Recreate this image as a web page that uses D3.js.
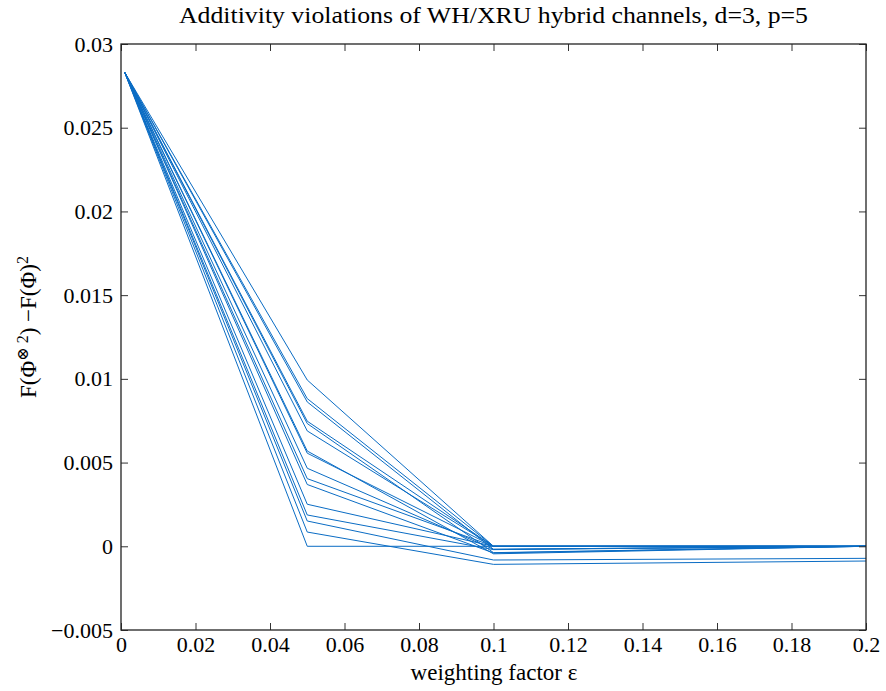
<!DOCTYPE html>
<html lang="en">
<head>
<meta charset="utf-8">
<title>additivity</title>
<style>
  body { margin: 0; background: #fff; }
  svg text { font-family: "Liberation Serif", "DejaVu Serif", serif; fill: #000; }
</style>
</head>
<body>
<script src="https://cdn.jsdelivr.net/npm/d3@7"></script>
<script>
// weighting factor sample points
const eps = [0.001, 0.05, 0.1, 0.2];

// one row per channel: value at each eps
const runs = [
  [0.02830, 0.00993, 0.00000, 0.00000],
  [0.02830, 0.00882, 0.00000, 0.00000],
  [0.02830, 0.00862, -0.00018, 0.00000],
  [0.02830, 0.00747, 0.00000, 0.00000],
  [0.02830, 0.00733, -0.00038, 0.00000],
  [0.02830, 0.00689, 0.00000, 0.00000],
  [0.02830, 0.00569, -0.00045, 0.00000],
  [0.02830, 0.00556, 0.00000, 0.00000],
  [0.02830, 0.00466, -0.00018, 0.00000],
  [0.02830, 0.00404, 0.00000, 0.00000],
  [0.02830, 0.00369, -0.00040, 0.00000],
  [0.02830, 0.00251, 0.00000, 0.00000],
  [0.02830, 0.00187, -0.00020, 0.00000],
  [0.02830, 0.00151, -0.00082, -0.00072],
  [0.02830, 0.00085, -0.00108, -0.00088],
  [0.02830, 0.00000, 0.00000, 0.00000]
];

const xTicks = [0, 0.02, 0.04, 0.06, 0.08, 0.1, 0.12, 0.14, 0.16, 0.18, 0.2];
const yTicks = [-0.005, 0, 0.005, 0.01, 0.015, 0.02, 0.025, 0.03];

const W = 886, H = 691;
const m = { left: 121, right: 20, top: 44, bottom: 61 };
const serif = "'Liberation Serif', 'DejaVu Serif', serif";

const svg = d3.select("body").append("svg")
  .attr("width", W).attr("height", H);

const x = d3.scaleLinear().domain([0, 0.2]).range([m.left, W - m.right]);
const y = d3.scaleLinear().domain([-0.005, 0.03]).range([H - m.bottom, m.top]);

const fmt = (d) => d === 0 ? "0" : String(d).replace("-", "\u2212");

const line = d3.line()
  .x((d, i) => x(eps[i]))
  .y((d) => y(d));

svg.append("g")
  .selectAll("path")
  .data(runs)
  .join("path")
  .attr("d", line)
  .attr("fill", "none")
  .attr("stroke", "#0a6cc4")
  .attr("stroke-width", 1);

// axes, MATLAB box style with inward ticks
const tk = 7;
svg.append("g")
  .attr("transform", `translate(0,${H - m.bottom})`)
  .call(d3.axisBottom(x).tickValues(xTicks).tickSize(-tk).tickPadding(6).tickFormat(fmt))
  .call(g => g.select(".domain").remove());
svg.append("g")
  .attr("transform", `translate(0,${m.top})`)
  .call(d3.axisTop(x).tickValues(xTicks).tickSize(-tk).tickFormat(""))
  .call(g => g.select(".domain").remove());
svg.append("g")
  .attr("transform", `translate(${m.left},0)`)
  .call(d3.axisLeft(y).tickValues(yTicks).tickSize(-tk).tickPadding(8).tickFormat(fmt))
  .call(g => g.select(".domain").remove());
svg.append("g")
  .attr("transform", `translate(${W - m.right},0)`)
  .call(d3.axisRight(y).tickValues(yTicks).tickSize(-tk).tickFormat(""))
  .call(g => g.select(".domain").remove());

svg.selectAll(".tick line").attr("stroke", "#333");
svg.selectAll("g").attr("font-family", serif);
svg.selectAll(".tick text")
  .style("font-family", serif)
  .style("font-size", "22px");

svg.append("rect")
  .attr("x", m.left).attr("y", m.top)
  .attr("width", W - m.left - m.right)
  .attr("height", H - m.top - m.bottom)
  .attr("fill", "none")
  .attr("stroke", "#222")
  .attr("stroke-width", 1.3);

svg.append("text")
  .attr("x", 179)
  .attr("y", 23)
  .attr("font-size", 23)
  .attr("textLength", 629)
  .attr("lengthAdjust", "spacingAndGlyphs")
  .text("Additivity violations of WH/XRU hybrid channels, d=3, p=5");

svg.append("text")
  .attr("x", 494)
  .attr("y", 680)
  .attr("text-anchor", "middle")
  .attr("font-size", 23)
  .text("weighting factor \u03b5");

const yl = svg.append("text")
  .attr("transform", `translate(36,327) rotate(-90)`)
  .attr("text-anchor", "middle")
  .attr("font-size", 23);
yl.append("tspan").text("F(\u03a6");
yl.append("tspan").attr("baseline-shift", "super").attr("font-size", 16).text("\u2297 2");
yl.append("tspan").text(") \u2212F(\u03a6)");
yl.append("tspan").attr("baseline-shift", "super").attr("font-size", 16).text("2");
</script>
</body>
</html>
